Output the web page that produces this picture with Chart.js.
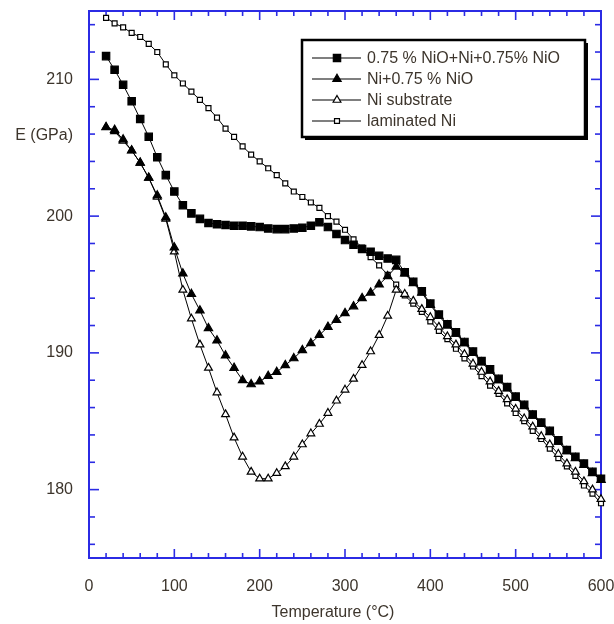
<!DOCTYPE html>
<html>
<head>
<meta charset="utf-8">
<script src="https://cdn.jsdelivr.net/npm/chart.js@4"></script>
<style>
  html, body { margin: 0; padding: 0; background: #fff; }
  canvas { display: block; }
</style>
</head>
<body>
<canvas id="modulusChart" width="614" height="624"></canvas>
<script>
// temperature of each measurement (°C)
const temps = [20, 30, 40, 50, 60, 70, 80, 90, 100, 110, 120, 130, 140, 150, 160, 170, 180, 190, 200,
  210, 220, 230, 240, 250, 260, 270, 280, 290, 300, 310, 320, 330, 340, 350, 360, 370, 380, 390, 400,
  410, 420, 430, 440, 450, 460, 470, 480, 490, 500, 510, 520, 530, 540, 550, 560, 570, 580, 590, 600];

// E (GPa)
const compositeE = [211.7, 210.7, 209.6, 208.4, 207.1, 205.8, 204.3, 203.0, 201.8, 200.8, 200.2, 199.8, 199.5, 199.4, 199.35, 199.3, 199.3, 199.25, 199.2,
  199.1, 199.05, 199.05, 199.1, 199.15, 199.3, 199.55, 199.2, 198.7, 198.25, 197.9, 197.6, 197.4, 197.1, 196.9, 196.8, 195.9, 195.2, 194.5, 193.6,
  192.8, 192.1, 191.5, 190.8, 190.1, 189.4, 188.8, 188.1, 187.5, 186.8, 186.2, 185.5, 184.9, 184.3, 183.6, 182.9, 182.4, 181.9, 181.3, 180.8];

const niNioE = [206.5, 206.3, 205.6, 204.8, 203.9, 202.8, 201.5, 199.9, 197.7, 195.8, 194.3, 193.1, 191.8, 190.9, 189.8, 188.9, 188.0, 187.7, 187.9,
  188.3, 188.6, 189.1, 189.6, 190.2, 190.7, 191.3, 191.9, 192.4, 192.9, 193.4, 194.0, 194.4, 195.0, 195.6, 196.3, 195.8, 195.1, 194.4, 193.5,
  192.7, 192.0, 191.4, 190.7, 190.0, 189.3, 188.7, 188.0, 187.4, 186.7, 186.1, 185.4, 184.8, 184.2, 183.5, 182.8, 182.3, 181.8, 181.2, 180.7];

const substrateE = [206.5, 206.2, 205.5, 204.8, 203.9, 202.8, 201.4, 199.8, 197.4, 194.6, 192.5, 190.6, 188.9, 187.1, 185.5, 183.8, 182.4, 181.3, 180.8,
  180.8, 181.2, 181.7, 182.4, 183.3, 184.1, 184.8, 185.6, 186.5, 187.3, 188.1, 189.1, 190.1, 191.3, 192.7, 194.6, 194.3, 193.8, 193.2, 192.6,
  191.9, 191.2, 190.6, 189.9, 189.2, 188.6, 187.9, 187.2, 186.6, 185.9, 185.2, 184.6, 183.9, 183.3, 182.6, 181.9, 181.3, 180.6, 180.0, 179.3];

const laminatedE = [214.5, 214.1, 213.8, 213.4, 213.1, 212.6, 212.0, 211.1, 210.3, 209.7, 209.1, 208.5, 207.9, 207.2, 206.4, 205.8, 205.1, 204.5, 204.0,
  203.5, 203.0, 202.4, 201.8, 201.4, 201.0, 200.6, 200.0, 199.6, 199.0, 198.3, 197.7, 197.0, 196.4, 195.7, 195.0, 194.2, 193.6, 193.0, 192.3,
  191.6, 191.0, 190.3, 189.6, 189.0, 188.3, 187.6, 187.0, 186.3, 185.6, 185.0, 184.3, 183.7, 183.0, 182.3, 181.7, 181.0, 180.3, 179.7, 179.0];

const seriesLabels = ['0.75 % NiO+Ni+0.75% NiO', 'Ni+0.75 % NiO', 'Ni substrate', 'laminated Ni'];
const xTicks = [0, 100, 200, 300, 400, 500, 600];
const yTicks = [180, 190, 200, 210];

const axisBlue = '#2b2be4';
const textColor = '#3d352c';
const fontFamily = '"Liberation Sans", Arial, sans-serif';

function toPoints(values) {
  return temps.map((t, i) => ({ x: t, y: values[i] }));
}

const markers = [
  { pointStyle: 'rect', radius: 5.2, fill: '#000' },
  { pointStyle: 'triangle', radius: 4.8, fill: '#000' },
  { pointStyle: 'triangle', radius: 4.5, fill: '#fff' },
  { pointStyle: 'rect', radius: 3.5, fill: '#fff' }
];

const allValues = [compositeE, niNioE, substrateE, laminatedE];

const datasets = allValues.map((vals, i) => ({
  label: seriesLabels[i],
  data: toPoints(vals),
  borderColor: '#000',
  borderWidth: 1,
  pointStyle: markers[i].pointStyle,
  pointRadius: markers[i].radius,
  pointBackgroundColor: markers[i].fill,
  pointBorderColor: '#000',
  pointBorderWidth: 1.2,
  tension: 0,
  clip: false
}));

// blue frame with inward ticks on all four sides, axis titles and boxed legend
const framePlugin = {
  id: 'frame',
  beforeDatasetsDraw(chart) {
    const { ctx, chartArea: a, scales: { x, y } } = chart;
    ctx.save();
    ctx.strokeStyle = axisBlue;
    ctx.lineWidth = 1.6;
    const seg = (x1, y1, x2, y2) => { ctx.beginPath(); ctx.moveTo(x1, y1); ctx.lineTo(x2, y2); ctx.stroke(); };
    for (let t = 0; t <= 600; t += 20) {
      const px = x.getPixelForValue(t);
      const len = t % 100 === 0 ? 9 : 5;
      seg(px, a.bottom, px, a.bottom - len);
      seg(px, a.top, px, a.top + len);
    }
    for (let v = 176; v <= 214; v += 2) {
      const py = y.getPixelForValue(v);
      const len = v % 10 === 0 ? 10 : 6;
      seg(a.left, py, a.left + len, py);
      seg(a.right, py, a.right - len, py);
    }
    ctx.lineWidth = 2;
    ctx.strokeRect(a.left, a.top, a.right - a.left, a.bottom - a.top);
    ctx.restore();
  },
  afterDraw(chart) {
    const { ctx, chartArea: a } = chart;
    ctx.save();
    ctx.fillStyle = textColor;
    ctx.font = '16px ' + fontFamily;
    ctx.textBaseline = 'middle';
    ctx.textAlign = 'right';
    ctx.fillText('E (GPa)', 73, 136);
    ctx.textAlign = 'center';
    ctx.fillText('Temperature (°C)', (a.left + a.right) / 2 - 12, 613);

    // legend box
    const bx = 302, by = 40, bw = 283, bh = 97;
    ctx.fillStyle = '#000';
    ctx.fillRect(bx + 3, by + 3, bw, bh);
    ctx.fillStyle = '#fff';
    ctx.fillRect(bx, by, bw, bh);
    ctx.strokeStyle = '#000';
    ctx.lineWidth = 2.5;
    ctx.strokeRect(bx, by, bw, bh);

    const rows = [58, 79, 100, 121];
    rows.forEach((ry, i) => {
      ctx.strokeStyle = '#000';
      ctx.lineWidth = 1.2;
      ctx.beginPath();
      ctx.moveTo(312, ry);
      ctx.lineTo(361, ry);
      ctx.stroke();
      ctx.fillStyle = markers[i].fill;
      ctx.strokeStyle = '#000';
      Chart.helpers.drawPoint(ctx, {
        pointStyle: markers[i].pointStyle,
        radius: markers[i].radius,
        borderWidth: 1.2,
        rotation: 0
      }, 337, ry);
      ctx.fillStyle = textColor;
      ctx.textAlign = 'left';
      ctx.fillText(seriesLabels[i], 367, ry + 1);
    });
    ctx.restore();
  }
};

new Chart(document.getElementById('modulusChart'), {
  type: 'line',
  data: { datasets },
  options: {
    responsive: false,
    animation: false,
    devicePixelRatio: 1,
    layout: { padding: { top: 11, right: 13, left: 0, bottom: 0 } },
    plugins: { legend: { display: false }, tooltip: { enabled: false } },
    scales: {
      x: {
        type: 'linear',
        min: 0,
        max: 600,
        afterBuildTicks: s => { s.ticks = xTicks.map(v => ({ value: v })); },
        afterFit: s => { s.height = 66; s.paddingLeft = 0; s.paddingRight = 0; },
        grid: { display: false },
        border: { display: false },
        ticks: { color: textColor, font: { size: 16, family: fontFamily }, padding: 11, maxRotation: 0 }
      },
      y: {
        type: 'linear',
        min: 175,
        max: 215,
        afterBuildTicks: s => { s.ticks = yTicks.map(v => ({ value: v })); },
        afterFit: s => { s.width = 89; s.paddingTop = 0; s.paddingBottom = 0; },
        grid: { display: false },
        border: { display: false },
        ticks: { color: textColor, font: { size: 16, family: fontFamily }, padding: 8 }
      }
    }
  },
  plugins: [framePlugin]
});
</script>
</body>
</html>
